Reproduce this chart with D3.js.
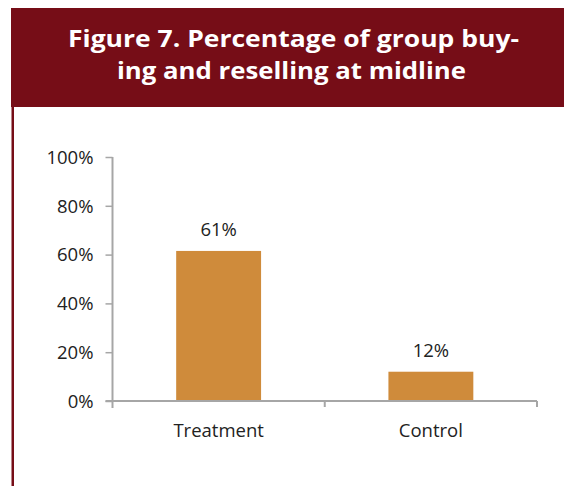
<!DOCTYPE html>
<html>
<head>
<meta charset="utf-8">
<script src="https://cdn.jsdelivr.net/npm/d3@7"></script>
<style>
  html, body { margin: 0; padding: 0; background: #ffffff; }
  svg { display: block; }
</style>
</head>
<body>
<svg id="chart" width="564" height="486"></svg>
<script>
const titleLines = ["Figure 7. Percentage of group buy-", "ing and reselling at midline"];
const categories = ["Treatment", "Control"];
const values = [0.615, 0.12];
const valueLabels = ["61%", "12%"];
const yTicks = [0, 0.2, 0.4, 0.6, 0.8, 1.0];

(function () {
const svg = d3.select("#chart");
const W = 564, H = 486;
const red = "#760D17";

// header band and left border
svg.append("rect").attr("x", 11).attr("y", 8).attr("width", W - 11).attr("height", 99).attr("fill", red);
svg.append("rect").attr("x", 11.5).attr("y", 100).attr("width", 2.5).attr("height", H - 100).attr("fill", red);

const titleFont = "'Open Sans', 'DejaVu Sans', sans-serif";
const tl = [{x: 293.5, y: 47, len: 451}, {x: 291.5, y: 79, len: 349}];
svg.selectAll("text.title").data(titleLines).enter().append("text")
  .attr("class", "title")
  .attr("x", (d, i) => tl[i].x)
  .attr("y", (d, i) => tl[i].y)
  .attr("text-anchor", "middle")
  .attr("textLength", (d, i) => tl[i].len)
  .attr("lengthAdjust", "spacingAndGlyphs")
  .attr("fill", "#ffffff")
  .attr("font-family", titleFont)
  .attr("font-weight", 700)
  .attr("font-size", 24)
  .text(d => d);

// plot area
const pLeft = 112.5, pRight = 537, pTop = 157, pBottom = 401;
const x = d3.scaleBand().domain(categories).range([pLeft, pRight]).paddingInner(0.6).paddingOuter(0.3);
const y = d3.scaleLinear().domain([0, 1]).range([pBottom, pTop]);
const axisColor = "#A6A6A6";
const font = "'Open Sans', 'Liberation Sans', sans-serif";

// bars
svg.selectAll("rect.bar").data(values).enter().append("rect")
  .attr("class", "bar")
  .attr("x", (d, i) => x(categories[i]))
  .attr("width", x.bandwidth())
  .attr("y", d => y(d))
  .attr("height", d => pBottom - y(d))
  .attr("fill", "#CF8B3B");

// y axis
const yAxis = d3.axisLeft(y).tickValues(yTicks).tickFormat(d3.format(".0%")).tickSize(7).tickPadding(12);
const gy = svg.append("g").attr("transform", `translate(${pLeft},0)`).call(yAxis);
gy.select(".domain").remove();
gy.selectAll(".tick line").attr("stroke", axisColor).attr("stroke-width", 1.5);
gy.selectAll(".tick text").attr("fill", "#222").attr("font-family", font).attr("font-size", 18.5).attr("dy", "0.34em");
svg.append("line").attr("x1", pLeft).attr("x2", pLeft).attr("y1", pTop).attr("y2", pBottom + 7)
  .attr("stroke", axisColor).attr("stroke-width", 2);

// x axis
svg.append("line").attr("x1", pLeft - 7).attr("x2", pRight).attr("y1", pBottom).attr("y2", pBottom)
  .attr("stroke", axisColor).attr("stroke-width", 2);
const bounds = [(pLeft + pRight) / 2, pRight];
svg.selectAll("line.xtick").data(bounds).enter().append("line")
  .attr("class", "xtick")
  .attr("x1", d => d).attr("x2", d => d).attr("y1", pBottom).attr("y2", pBottom + 6)
  .attr("stroke", axisColor).attr("stroke-width", 2);

svg.selectAll("text.xlab").data(categories).enter().append("text")
  .attr("class", "xlab")
  .attr("x", d => x(d) + x.bandwidth() / 2)
  .attr("y", 437)
  .attr("text-anchor", "middle")
  .attr("fill", "#222")
  .attr("font-family", font)
  .attr("font-size", 18.5)
  .text(d => d);

// value labels
svg.selectAll("text.vlab").data(values).enter().append("text")
  .attr("class", "vlab")
  .attr("x", (d, i) => x(categories[i]) + x.bandwidth() / 2)
  .attr("y", d => y(d) - 15)
  .attr("text-anchor", "middle")
  .attr("fill", "#222")
  .attr("font-family", font)
  .attr("font-size", 18.5)
  .text((d, i) => valueLabels[i]);
})();
</script>
</body>
</html>
